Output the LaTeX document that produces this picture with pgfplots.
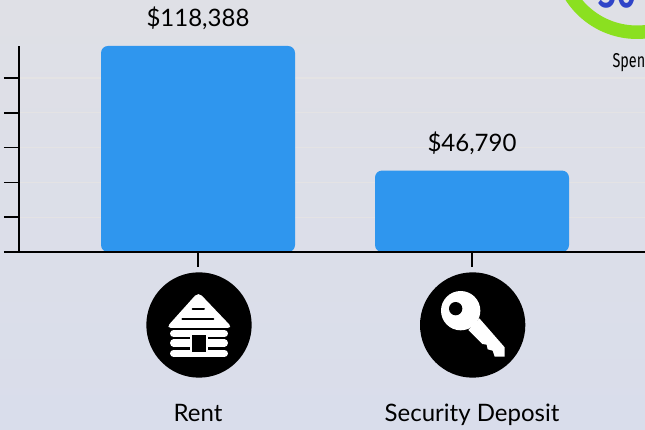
\documentclass[border=0pt]{standalone}
\usepackage{fontspec}
\setmainfont{Lato}
\newfontfamily\narrowfont[FakeStretch=0.72]{Fira Sans Medium}
\newfontfamily\narrowreg[FakeStretch=0.72]{Fira Sans}
\usepackage{pgfplots}
\pgfplotsset{compat=1.18}
\definecolor{bartop}{HTML}{2F96EE}
\definecolor{bgtop}{HTML}{DFE0E6}
\definecolor{bgbot}{HTML}{D9DDEB}
\definecolor{gridc}{HTML}{E4E3E4}
\definecolor{ring}{HTML}{8BE020}
\definecolor{ringtxt}{HTML}{2F44C8}

\begin{document}
\begin{tikzpicture}[x=1pt,y=1pt]
\path[use as bounding box,clip] (0,0) rectangle (645,430);
\fill[top color=bgtop,bottom color=bgbot] (0,0) rectangle (645,430);

% gauge cut off at the top right
\draw[ring,line width=13.5pt] (637,430+46) circle (78.25);
\node[text=ringtxt,font=\fontsize{50}{50}\narrowfont,anchor=base] at (618,430-8) {30};
\node[text=black,font=\fontsize{20}{20}\narrowreg,anchor=base west] at (609,430-68) {Spen};

\begin{axis}[
at={(19pt,178pt)},anchor=south west,
scale only axis,width=626pt,height=206pt,
ybar,bar width=194pt,
xmin=-0.6533,xmax=1.6314,
ymin=0,ymax=118388,
axis x line*=bottom,axis y line*=left,
axis line style={black,line width=1.7pt,-},
xtick={0,1},xticklabels={Rent,Security Deposit},
ytick={0,20000,40000,60000,80000,100000},yticklabels={},
scaled y ticks=false,
tick align=outside,major tick length=15pt,
tick style={black,line width=1.6pt},
xticklabel style={font=\fontsize{24}{24}\selectfont,anchor=base,yshift=-155pt},
ymajorgrids=true,grid style={gridc,line width=1.2pt},
nodes near coords,
nodes near coords style={font=\fontsize{24}{24}\selectfont,black,yshift=12.5pt,
  /pgf/number format/.cd,fixed,precision=0,1000 sep={,},assume math mode=true},
nodes near coords={\$\pgfmathprintnumber{\pgfplotspointmeta}},
clip=false,
]
\addplot[fill=bartop,draw=none,rounded corners=7pt] coordinates {(0,118388) (1,46790)};
% baseline stays over the bars
\draw[black,line width=1.7pt] (rel axis cs:0,0)--(rel axis cs:1,0);
\end{axis}

% cabin icon, in pixels of a 3x crop
\begin{scope}[shift={(130,180)},x=1pt/3,y=-1pt/3]
\fill[black] (207,225) circle (158);
\fill[white,rounded corners=5pt] (205,126)--(308,234)--(108,234)--cycle;
\draw[black,line width=2pt,line cap=round] (188,177)--(222,177);
\draw[black,line width=2pt,line cap=round] (157,208)--(250,208);
\draw[white,line width=7.3pt,line cap=round] (131,251)--(283,251);
\draw[white,line width=7.3pt,line cap=round] (131,279)--(283,279);
\draw[white,line width=7.3pt,line cap=round] (131,310)--(283,310);
\fill[white] (180,240) rectangle (233,318);
\fill[black] (186,255) rectangle (228,305);
\end{scope}

% key icon
\begin{scope}[shift={(400,180)},x=1pt/3,y=-1pt/3]
\fill[black] (218,225) circle (158);
\fill[white] (182,182) circle (59);
\fill[white] (205,240)--(238,205)--(314,292)--(314,320)--(284,320)--(278,302)--(263,298)--(260,284)--(247,282)--cycle;
\fill[black] (167,176) circle (20);
\end{scope}
\end{tikzpicture}
\end{document}
